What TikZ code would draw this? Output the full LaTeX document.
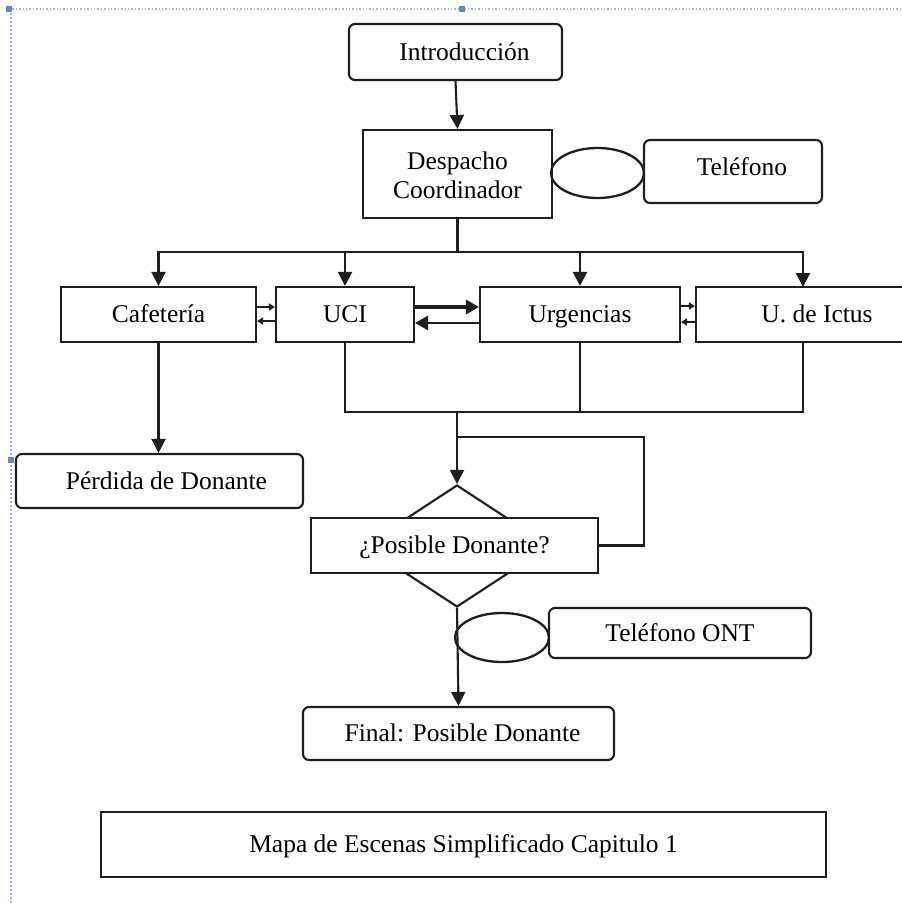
\documentclass[tikz,border=0pt]{standalone}
\usepackage{fontspec}
\setmainfont{Liberation Serif}
\usetikzlibrary{arrows.meta,shapes.geometric,calc}

\definecolor{ink}{HTML}{1E1E1E}
\definecolor{pageedge}{HTML}{9DB5E0}
\definecolor{handle}{HTML}{5A8AD6}

\tikzset{
  base/.style={draw=ink, line width=2.1pt, font=\fontsize{25.5}{29}\selectfont, text=black, inner sep=0pt,
    text height=19pt, text depth=3pt},
  sqbox/.style={base, rectangle, fill=white},
  rndbox/.style={base, rectangle, rounded corners=6pt, fill=white},
  oval/.style={draw=ink, line width=2.3pt, ellipse, inner sep=0pt},
  wire/.style={draw=ink, line width=2.1pt},
  flow/.style={wire, -{Triangle[length=14pt,width=14pt]}},
  sideflow/.style={wire, -{Triangle[length=6pt,width=7pt]}},
  heavyflow/.style={draw=ink, line width=3.6pt, -{Triangle[length=13pt,width=14pt]}},
  backflow/.style={draw=ink, line width=2.6pt, -{Triangle[length=13pt,width=14pt]}},
}

\begin{document}
\begin{tikzpicture}[x=1pt,y=-1pt]
\useasboundingbox (0,0) rectangle (902,903);
\clip (0,0) rectangle (902,903);
\fill[white] (0,0) rectangle (902,903);

% page margin guides
\draw[pageedge, line width=1.4pt, dotted] (9,9) -- (902,9);
\draw[pageedge, line width=2pt, dotted] (11,9) -- (11,903);
\fill[handle] (6,6) rectangle (12,12);
\fill[handle] (459,6) rectangle (465,12);
\fill[handle] (8,457) rectangle (14,463);

% top of the flow
\node[rndbox, minimum width=213pt, minimum height=56pt] (intro) at (455.5,52) {\hspace{18pt}Introducción};
\node[sqbox, minimum width=189pt, minimum height=88pt, text height=0pt, text depth=0pt] (desp) at (457.5,174)
  {\raisebox{-10pt}[0pt][0pt]{\begin{tabular}{@{}c@{}}Despacho\\Coordinador\end{tabular}}};
\node[oval, minimum width=93pt, minimum height=50pt] (tel1) at (597.5,173) {};
\node[rndbox, minimum width=178pt, minimum height=63pt] (tel) at (733,171.5) {\raisebox{4pt}{\hspace{18pt}Teléfono}};

% the four places
\node[sqbox, minimum width=195pt, minimum height=55pt] (caf) at (158.5,314.5) {Cafetería};
\node[sqbox, minimum width=138pt, minimum height=55pt] (uci) at (345,314.5) {UCI};
\node[sqbox, minimum width=200pt, minimum height=55pt] (urg) at (580,314.5) {Urgencias};
\node[sqbox, minimum width=242pt, minimum height=55pt] (ictus) at (817,314.5) {U. de Ictus};

% outcomes
\node[rndbox, minimum width=287pt, minimum height=54pt] (perd) at (159.5,481) {\hspace{14pt}Pérdida de Donante};
\node[base, diamond, fill=white, minimum width=186pt, minimum height=122pt, aspect=1.52, text height=, text depth=] (dia) at (457,546) {};
\node[sqbox, minimum width=287pt, minimum height=55pt] (quest) at (454.5,545.5) {¿Posible Donante?};
\node[oval, minimum width=94pt, minimum height=49pt] (tel2) at (502,637.5) {};
\node[rndbox, minimum width=262pt, minimum height=50pt] (ont) at (680,633) {Teléfono ONT};
\node[rndbox, minimum width=311pt, minimum height=53pt] (final) at (458.5,733.5) {\hspace{8pt}Final: Posible Donante};

\node[sqbox, minimum width=725pt, minimum height=65pt] (title) at (463.5,844.5) {Mapa de Escenas Simplificado Capitulo 1};

% junction points
\coordinate (split) at (457.5,252);
\coordinate (splitL) at (158.5,252);
\coordinate (splitR) at (803,252);
\coordinate (ictusTop) at (803,287);
\coordinate (ictusBot) at (803,342);
\coordinate (joinL) at (345,412);
\coordinate (joinR) at (803,412);
\coordinate (merge) at (457,412);
\coordinate (loopA) at (457,437);
\coordinate (loopB) at (644,437);

% intro to dispatch
\draw[flow] (intro.south) -- (desp.north);

% dispatch fan-out
\draw[wire] (desp.south) -- (split);
\draw[wire, line cap=rect] (splitL) -- (splitR);
\draw[flow] (splitL) -- (caf.north);
\draw[flow] (uci.north |- split) -- (uci.north);
\draw[flow] (urg.north |- split) -- (urg.north);
\draw[flow] (splitR) -- (ictusTop);

% moves between neighbouring places
\draw[sideflow] ([yshift=7.5pt]caf.east) -- ([yshift=7.5pt]caf.east -| uci.west);
\draw[sideflow] ([yshift=-6.5pt]uci.west) -- ([yshift=-6.5pt]uci.west -| caf.east);
\draw[heavyflow] ([yshift=7.5pt]uci.east) -- ([yshift=7.5pt]uci.east -| urg.west);
\draw[backflow] ([yshift=-8.5pt]urg.west) -- ([yshift=-8.5pt]urg.west -| uci.east);
\draw[sideflow] ([yshift=8.5pt]urg.east) -- ([yshift=8.5pt]urg.east -| ictus.west);
\draw[sideflow] ([yshift=-7.5pt]ictus.west) -- ([yshift=-7.5pt]ictus.west -| urg.east);

% collection bus into the decision
\draw[wire] (uci.south) -- (joinL);
\draw[wire] (urg.south) -- (urg.south |- joinL);
\draw[wire] (ictusBot) -- (joinR);
\draw[wire, line cap=rect] (joinL) -- (joinR);
\draw[flow] (merge) -- (dia.north);
\draw[wire, line join=miter] (loopA) -- (loopB) |- (quest.east);

% cafeteria leads to losing the donor
\draw[flow] (caf.south) -- (caf.south |- perd.north);

% decision to the ending
\draw[flow] (dia.south) -- (final.north);
\end{tikzpicture}
\end{document}
